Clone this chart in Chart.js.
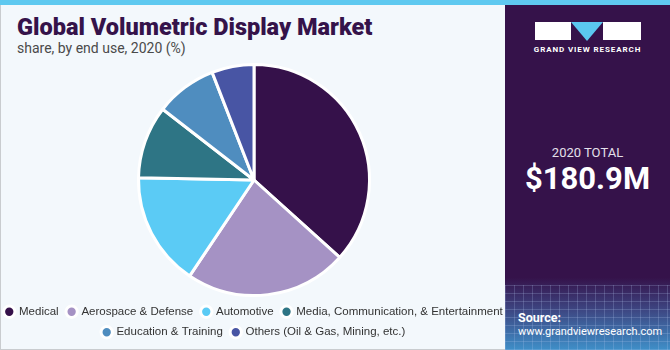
<!DOCTYPE html>
<html><head><meta charset="utf-8">
<script src="https://cdn.jsdelivr.net/npm/chart.js@4/dist/chart.umd.min.js"></script>
<style>
html,body{margin:0;padding:0;}
body{width:670px;height:350px;position:relative;overflow:hidden;background:#f3f8fc;font-family:"Liberation Sans",Arial,sans-serif;}
#frame{position:absolute;left:0;top:0;width:668px;height:348px;border:1px solid #c9cccf;}
#topbar{position:absolute;left:0;top:0;width:670px;height:5px;background:#5fc9f0;}
#title{position:absolute;left:17px;top:13px;font-family:"Roboto",sans-serif;font-weight:900;font-size:23.5px;color:#35134a;}
#sub{position:absolute;left:17px;top:40px;font-family:"Roboto",sans-serif;font-size:14px;color:#4a4a4a;}
#side{position:absolute;left:505px;top:5px;width:165px;height:345px;background:linear-gradient(to bottom,#35124a 0%,#35124a 79%,#3d4480 88%,#3f8fc8 100%);overflow:hidden;}
#grid{position:absolute;left:0;top:280px;width:165px;height:65px;background-image:repeating-linear-gradient(90deg,rgba(180,200,240,0.22) 0 1px,transparent 1px 9px),repeating-linear-gradient(0deg,rgba(180,200,240,0.22) 0 1px,transparent 1px 8px);}
#chartwrap{position:absolute;left:-11px;top:61px;width:530px;height:287px;}
.st{position:absolute;color:#fff;}
</style></head>
<body>
<div id="frame"></div>
<div id="topbar"></div>
<div id="title">Global Volumetric Display Market</div>
<div id="sub">share, by end use, 2020 (%)</div>
<div id="side">
  <div id="grid"></div>
  <div class="st" style="left:30px;top:17px;width:36px;height:18px;background:#fff;"></div>
  <div class="st" style="left:66px;top:17px;width:0;height:0;border-left:16px solid transparent;border-right:16px solid transparent;border-top:19px solid #5bc8f0;"></div>
  <div class="st" style="left:98px;top:17px;width:38px;height:18px;background:#fff;"></div>
  <div class="st" style="left:0;top:40px;width:165px;text-align:center;font-family:'Roboto',sans-serif;font-weight:700;font-size:8px;letter-spacing:0.9px;">GRAND VIEW RESEARCH</div>
  <div class="st" style="left:0;top:140px;width:165px;text-align:center;font-family:'Roboto',sans-serif;font-size:13px;color:#e4e0ea;">2020 TOTAL</div>
  <div class="st" style="left:0;top:155px;width:165px;text-align:center;font-family:'Roboto',sans-serif;font-weight:700;font-size:31px;">$180.9M</div>
  <div class="st" style="left:13px;top:305px;font-family:'Roboto',sans-serif;font-weight:700;font-size:12.5px;">Source:</div>
  <div class="st" style="left:13px;top:320px;font-family:'Roboto',sans-serif;font-size:11px;">www.grandviewresearch.com</div>
</div>
<div id="chartwrap"><canvas id="c"></canvas></div>
<script>
const categories = ["Medical","Aerospace & Defense","Automotive","Media, Communication, & Entertainment","Education & Training","Others (Oil & Gas, Mining, etc.)"];
const shares = [36.7, 22.7, 15.9, 10.2, 8.6, 5.9];
const colors = ["#35114a","#a592c4","#5bcbf5","#2e7585","#4f8dbf","#4855a4"];
new Chart(document.getElementById('c'),{
  type:'pie',
  data:{labels:categories,datasets:[{data:shares,backgroundColor:colors,borderColor:'#ffffff',borderWidth:3}]},
  options:{
    responsive:true,maintainAspectRatio:false,animation:false,
    layout:{padding:{top:2,bottom:0,left:0,right:0}},
    plugins:{
      tooltip:{enabled:false},
      legend:{position:'bottom',labels:{usePointStyle:true,pointStyle:'circle',boxWidth:8,boxHeight:8,padding:9,color:'#333333',font:{family:'Liberation Sans',size:11.5}}}
    }
  }
});
</script>
</body></html>
